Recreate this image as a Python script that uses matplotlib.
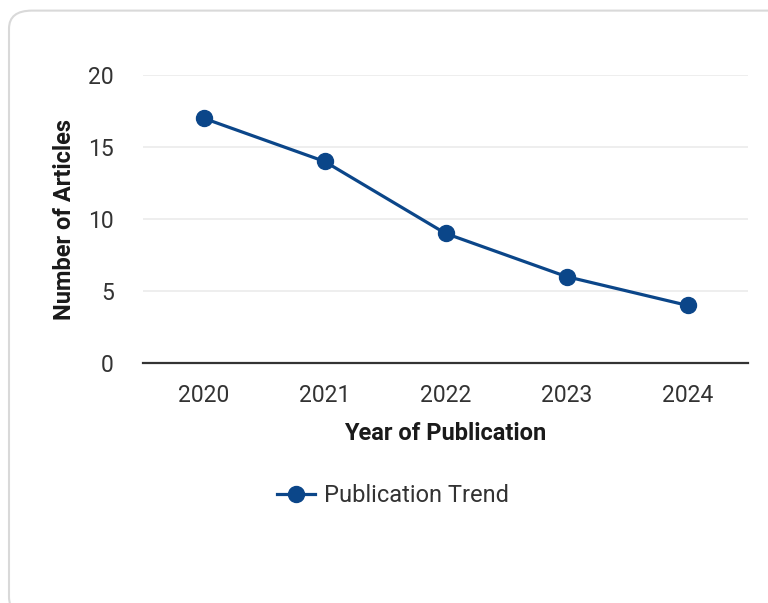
import matplotlib.pyplot as plt
from matplotlib.patches import FancyBboxPatch

########## Data
years = ['2020', '2021', '2022', '2023', '2024']
articles = [17, 14, 9, 6, 4]
series_name = 'Publication Trend'

plt.rcParams['font.family'] = ['Roboto', 'DejaVu Sans']

W, H = 768, 603
fig = plt.figure(figsize=(W / 100, H / 100), dpi=100)

# card background (behind the axes)
card = FancyBboxPatch((9 / W, -0.02), (W + 20) / W, (H - 10) / H + 0.02 - 0.001,
                      boxstyle='round,pad=0,rounding_size=0.03', transform=fig.transFigure,
                      facecolor='white', edgecolor='#d9d9d9', linewidth=1.5, zorder=-1)
fig.patches.append(card)

ax = fig.add_axes([143 / W, 1 - 363 / H, 605 / W, 288 / H])
ax.set_facecolor('none')
x = list(range(len(years)))
ax.plot(x, articles, color='#0b4689', linewidth=2.3, marker='o', markersize=11.5,
        label=series_name, zorder=3, clip_on=False)

ax.set_xlim(-0.5, len(years) - 0.5)
ax.set_ylim(0, 20)
ax.set_yticks([0, 5, 10, 15, 20])
ax.set_xticks(x)
ax.set_xticklabels(years)
ax.grid(axis='y', color='#ebebeb', linewidth=1.2)
ax.set_axisbelow(True)
for s in ['top', 'right', 'left']:
    ax.spines[s].set_visible(False)
ax.spines['bottom'].set_color('#333333')
ax.spines['bottom'].set_linewidth(1.6)
ax.spines['bottom'].set_zorder(4)
ax.tick_params(length=0, labelsize=16.5, labelcolor='#333333')
ax.tick_params(axis='x', pad=15)
ax.tick_params(axis='y', pad=21)

ax.set_xlabel('Year of Publication', fontsize=17, fontweight='bold', labelpad=11,
              color='#1a1a1a')
ax.set_ylabel('Number of Articles', fontsize=17, fontweight='bold', labelpad=9,
              color='#1a1a1a')

ax.legend(loc='center', bbox_to_anchor=(393 / W, 1 - 496 / H), bbox_transform=fig.transFigure,
          frameon=False, fontsize=17, handlelength=1.6, handletextpad=0.35,
          labelcolor='#333333')

fig.savefig('out.png', dpi=100)
